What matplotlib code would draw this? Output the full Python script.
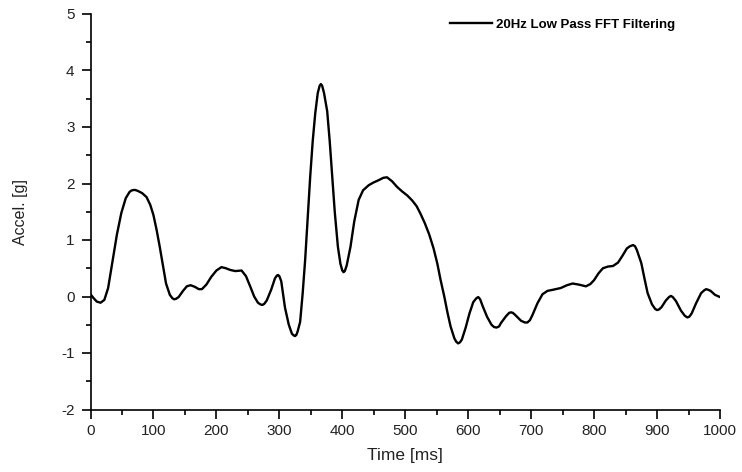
import numpy as np
import matplotlib
matplotlib.use("Agg")
import matplotlib.pyplot as plt

# filtered acceleration trace (20 Hz low pass), time in ms, accel in g
time_ms = [0, 5, 10, 16, 22, 28, 35, 42, 49, 56, 62, 65, 68, 71, 75, 82, 89, 95,
           100, 105, 110, 115, 120, 126, 130, 133, 136, 140, 147, 153, 159, 166,
           172, 177, 184, 192, 200, 208, 215, 222, 230, 240, 247, 254, 260, 266,
           270, 273, 276, 280, 287, 293, 296, 298, 300, 303, 309, 315, 320, 323,
           325, 327, 329, 333, 337, 341, 345, 349, 353, 357, 361, 364, 366, 368,
           371, 376, 380, 384, 388, 393, 397, 400, 402, 404, 407, 413, 419, 426,
           433, 442, 450, 458, 465, 471, 479, 487, 495, 503, 511, 518, 524, 531,
           538, 545, 551, 556, 562, 567, 572, 578, 581, 584, 587, 590, 596, 602,
           608, 613, 616, 619, 623, 630, 637, 641, 645, 649, 652, 660, 665, 668,
           671, 675, 684, 690, 694, 698, 702, 710, 718, 726, 735, 747, 757, 766,
           776, 787, 794, 800, 807, 814, 822, 830, 838, 845, 852, 857, 862, 865,
           868, 875, 880, 885, 892, 897, 900, 903, 907, 914, 919, 922, 925, 930,
           938, 944, 948, 951, 955, 962, 970, 975, 978, 981, 985, 992, 1000]
accel_g = [0.04, -0.03, -0.09, -0.11, -0.06, 0.15, 0.62, 1.10, 1.48, 1.74, 1.85,
           1.875, 1.885, 1.885, 1.87, 1.83, 1.76, 1.62, 1.44, 1.18, 0.88, 0.55,
           0.23, 0.03, -0.03, -0.05, -0.04, -0.01, 0.10, 0.18, 0.20, 0.17, 0.13,
           0.13, 0.21, 0.35, 0.46, 0.52, 0.50, 0.47, 0.45, 0.46, 0.36, 0.17,
           0.00, -0.11, -0.14, -0.15, -0.13, -0.07, 0.12, 0.32, 0.37, 0.38,
           0.36, 0.27, -0.20, -0.50, -0.66, -0.69, -0.70, -0.68, -0.62, -0.45,
           0.05, 0.65, 1.40, 2.12, 2.75, 3.24, 3.60, 3.73, 3.76, 3.73, 3.60,
           3.28, 2.75, 2.12, 1.50, 0.88, 0.58, 0.46, 0.43, 0.45, 0.55, 0.88,
           1.33, 1.71, 1.88, 1.97, 2.02, 2.06, 2.10, 2.11, 2.04, 1.94, 1.86,
           1.79, 1.70, 1.60, 1.47, 1.30, 1.10, 0.85, 0.58, 0.30, 0.00, -0.28,
           -0.53, -0.74, -0.80, -0.83, -0.81, -0.76, -0.55, -0.30, -0.10,
           -0.03, -0.01, -0.05, -0.17, -0.36, -0.50, -0.54, -0.55, -0.53,
           -0.47, -0.35, -0.29, -0.28, -0.29, -0.33, -0.43, -0.46, -0.46,
           -0.42, -0.33, -0.12, 0.04, 0.10, 0.12, 0.15, 0.20, 0.23, 0.21, 0.18,
           0.22, 0.29, 0.41, 0.50, 0.53, 0.54, 0.60, 0.72, 0.85, 0.89, 0.91,
           0.89, 0.82, 0.59, 0.32, 0.06, -0.14, -0.22, -0.24, -0.23, -0.19,
           -0.07, -0.01, 0.01, -0.01, -0.08, -0.25, -0.34, -0.37, -0.36, -0.30,
           -0.12, 0.06, 0.11, 0.13, 0.12, 0.10, 0.03, -0.01]

x_ticks = [0, 100, 200, 300, 400, 500, 600, 700, 800, 900, 1000]
y_ticks = [-2, -1, 0, 1, 2, 3, 4, 5]
series_name = "20Hz Low Pass FFT Filtering"

plt.rcParams["font.family"] = ["Liberation Sans", "DejaVu Sans"]
plt.rcParams["axes.unicode_minus"] = False

W, H = 742, 472
fig = plt.figure(figsize=(W / 100, H / 100), dpi=100)
ax = fig.add_axes([90.5 / W, 1 - 409.5 / H, (720 - 90.5) / W, (409.5 - 14) / H])

ax.plot(time_ms, accel_g, color="black", lw=1.7, label=series_name,
        solid_joinstyle="round")

ax.set_xlim(0, 1000)
ax.set_ylim(-2, 5)
ax.set_xticks(x_ticks)
ax.set_yticks(y_ticks)
ax.set_xticks(np.arange(50, 1000, 100), minor=True)
ax.set_yticks(np.arange(-1.5, 5, 1), minor=True)

for s in ["top", "right"]:
    ax.spines[s].set_visible(False)
for s in ["left", "bottom"]:
    ax.spines[s].set_linewidth(1.2)

ax.tick_params(which="major", direction="out", length=6.5, width=1.2,
               labelsize=11, color="black", labelcolor="#222222")
ax.tick_params(axis="y", which="major", pad=5)
ax.tick_params(axis="x", which="major", pad=4)
ax.tick_params(which="minor", direction="out", length=3.5, width=1.2)

ax.set_xlabel("Time [ms]", fontsize=12.5, color="#222222", labelpad=7)
ax.set_ylabel("Accel. [g]", fontsize=11.5, color="#222222", labelpad=24)

ax.legend(loc="center left", bbox_to_anchor=(450 / W, 1 - 25 / H),
          bbox_transform=fig.transFigure, frameon=False, borderpad=0,
          borderaxespad=0, handlelength=3.2, handletextpad=0.25,
          prop={"weight": "bold", "size": 9.5})

fig.savefig("out.png", dpi=100)
